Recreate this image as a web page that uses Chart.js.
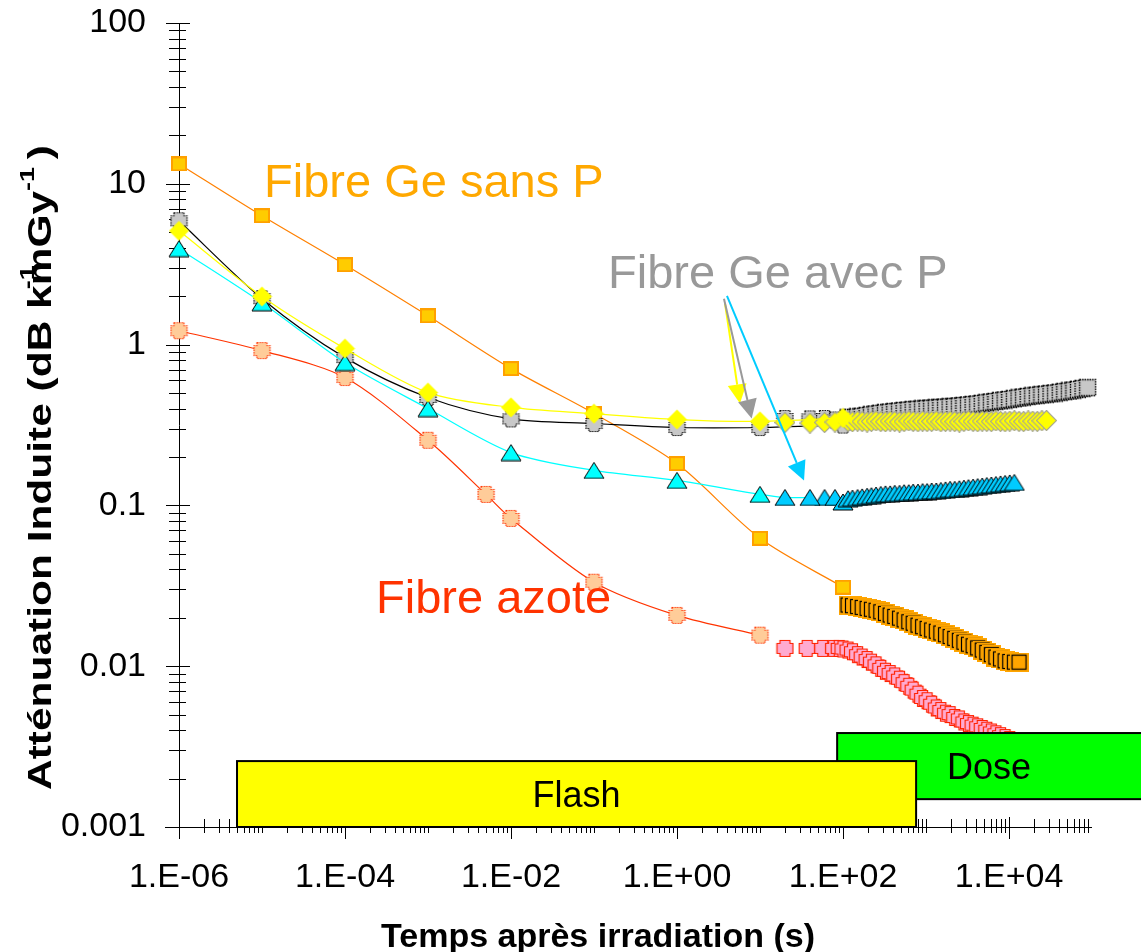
<!DOCTYPE html>
<html>
<head>
<meta charset="utf-8">
<script src="https://cdn.jsdelivr.net/npm/chart.js@4.4.1/dist/chart.umd.min.js"></script>
<style>
  html, body { margin: 0; padding: 0; background: #ffffff; }
  #wrap { width: 1141px; height: 952px; }
</style>
</head>
<body>
<div id="wrap"><canvas id="chart" width="1141" height="952"></canvas></div>
<script>
// ---- Data -------------------------------------------------------------
// Induced attenuation (dB km-1 Gy-1) versus time after irradiation (s)

// Fibre Ge sans P : pulsed measurements
const sansPTimes  = [1e-6, 1e-5, 1e-4, 1e-3, 1e-2, 1e-1, 1, 10, 100];
const sansPValues = [13.3, 6.33, 3.14, 1.51, 0.709, 0.373, 0.182, 0.0624, 0.031];

// Fibre Ge avec P (grey squares)
const avecP1Times  = [1e-6, 1e-5, 1e-4, 1e-3, 1e-2, 1e-1, 1, 10, 100];
const avecP1Values = [5.89, 1.93, 0.83, 0.469, 0.345, 0.323, 0.305, 0.305, 0.316];
const avecP1StartTimes = [20, 40, 60, 80];
const avecP1Start      = [0.347, 0.345, 0.347, 0.340];

// Fibre Ge avec P (yellow diamonds)
const avecP2Times  = [1e-6, 1e-5, 1e-4, 1e-3, 1e-2, 1e-1, 1, 10, 100];
const avecP2Values = [5.1, 1.99, 0.944, 0.503, 0.407, 0.372, 0.342, 0.333, 0.35];
const avecP2StartTimes = [20, 40, 60, 80];
const avecP2Start      = [0.328, 0.325, 0.328, 0.330];

// Fibre Ge avec P (cyan triangles)
const avecP3Times  = [1e-6, 1e-5, 1e-4, 1e-3, 1e-2, 1e-1, 1, 10, 20, 40];
const avecP3Values = [3.95, 1.82, 0.773, 0.40, 0.213, 0.165, 0.143, 0.117, 0.112, 0.112];
const avecP3StartTimes = [60, 80, 100];
const avecP3Start      = [0.112, 0.112, 0.105];

// Fibre azote
const azoteTimes  = [1e-6, 1e-5, 1e-4, 1e-3, 5e-3, 1e-2, 1e-1, 1, 10];
const azoteValues = [1.22, 0.918, 0.624, 0.254, 0.117, 0.083, 0.0333, 0.0207, 0.0156];
const azoteStartTimes = [20, 37, 57, 77, 90, 100];
const azoteStart      = [0.0129, 0.0129, 0.0129, 0.0129, 0.0129, 0.0128];

// Acquisition times during the continuous dose (s)
const doseTimes = [115, 130, 150, 170, 195, 220, 250, 285, 325, 370,
  420, 480, 545, 620, 700, 800, 910, 1030, 1170, 1330,
  1510, 1720, 1950, 2220, 2520, 2860, 3250, 3690, 4190, 4760,
  5400, 6130, 6960, 7900, 8970, 10200, 11600, 13200, 15000, 17000,
  19300, 21900, 24900, 28300, 32100, 36400, 41400, 47000, 53300, 60500,
  68700, 78000, 88600];

const sansPDose = [0.0240, 0.0238, 0.0235, 0.0232, 0.0229, 0.0226, 0.0223, 0.0218, 0.0213, 0.0208,
  0.0204, 0.0199, 0.0194, 0.0189, 0.0185, 0.0180, 0.0176, 0.0172, 0.0168, 0.0165,
  0.0161, 0.0157, 0.0153, 0.0149, 0.0145, 0.0141, 0.0137, 0.0134, 0.0130, 0.0126,
  0.0122, 0.0118, 0.0114, 0.0111, 0.0108, 0.0107, 0.0106, 0.0106];

const avecP1Dose = [0.350, 0.352, 0.355, 0.358, 0.362, 0.366, 0.370, 0.374, 0.377, 0.380,
  0.383, 0.386, 0.389, 0.391, 0.394, 0.396, 0.398, 0.400, 0.402, 0.404,
  0.406, 0.408, 0.410, 0.412, 0.415, 0.418, 0.421, 0.424, 0.427, 0.431,
  0.435, 0.439, 0.443, 0.448, 0.452, 0.456, 0.461, 0.466, 0.471, 0.476,
  0.480, 0.484, 0.488, 0.492, 0.496, 0.500, 0.505, 0.510, 0.515, 0.521,
  0.527, 0.533, 0.540];

const avecP2Dose = [0.333, 0.331, 0.334, 0.332, 0.330, 0.333, 0.335, 0.332, 0.331, 0.334,
  0.333, 0.330, 0.332, 0.335, 0.333, 0.331, 0.334, 0.332, 0.333, 0.335,
  0.331, 0.333, 0.334, 0.332, 0.330, 0.333, 0.335, 0.333, 0.331, 0.334,
  0.333, 0.332, 0.335, 0.333, 0.331, 0.334, 0.336, 0.333, 0.332, 0.335,
  0.334, 0.333, 0.336, 0.337];

const avecP3Dose = [0.110, 0.111, 0.112, 0.113, 0.114, 0.115, 0.116, 0.117, 0.118, 0.118,
  0.119, 0.119, 0.120, 0.120, 0.121, 0.121, 0.122, 0.122, 0.123, 0.123,
  0.124, 0.125, 0.126, 0.126, 0.127, 0.128, 0.129, 0.130, 0.131, 0.132,
  0.133, 0.134, 0.135, 0.136, 0.137, 0.138, 0.139];

const azoteDose = [0.0126, 0.0123, 0.0118, 0.0114, 0.0110, 0.0106, 0.0102, 0.0097, 0.0093, 0.0090,
  0.0087, 0.0083, 0.0079, 0.0075, 0.0071, 0.0067, 0.0063, 0.0061, 0.0058, 0.0055,
  0.0053, 0.0051, 0.0050, 0.0048, 0.0047, 0.0045, 0.0044, 0.0043, 0.0042, 0.0041,
  0.0040, 0.0039, 0.0038, 0.0037, 0.0036, 0.0035, 0.0034, 0.0033];

// Axis ticks
const xTickValues = [1e-6, 1e-4, 1e-2, 1, 1e2, 1e4];
const xTickLabels = ['1.E-06', '1.E-04', '1.E-02', '1.E+00', '1.E+02', '1.E+04'];
const yTickValues = [0.001, 0.01, 0.1, 1, 10, 100];
const yTickLabels = ['0.001', '0.01', '0.1', '1', '10', '100'];

// Irradiation periods and pointers (data units)
const periods = [
  { label: 'Dose',  xFrom: 85,   xTo: 1e7, yFrom: 0.00149, yTo: 0.00384, fill: '#00FF00' },
  { label: 'Flash', xFrom: 5e-6, xTo: 760, yFrom: 0.001,   yTo: 0.00257, fill: '#FFFF00' }
];
const pointers = [
  { from: [3.79, 1.80], to: [5.74, 0.431], color: '#FFFF00' },
  { from: [3.68, 1.93], to: [7.94, 0.347], color: '#999999' },
  { from: [4.0, 2.01],  to: [33.9, 0.143], color: '#00CCFF' }
];

// ---- Styling helpers ---------------------------------------------------
const FONT = '"Liberation Sans", Arial, Helvetica, sans-serif';

function pts(times, values) {
  return values.map((v, i) => ({ x: times[i], y: v }));
}

function marker(w, h, paint) {
  const c = document.createElement('canvas');
  c.width = w; c.height = h;
  paint(c.getContext('2d'), w, h);
  return c;
}

function notchedPath(ctx, o, s, n) {
  ctx.beginPath();
  ctx.moveTo(o + n, o);
  ctx.lineTo(o + s - n, o); ctx.lineTo(o + s - n, o + n); ctx.lineTo(o + s, o + n);
  ctx.lineTo(o + s, o + s - n); ctx.lineTo(o + s - n, o + s - n); ctx.lineTo(o + s - n, o + s);
  ctx.lineTo(o + n, o + s); ctx.lineTo(o + n, o + s - n); ctx.lineTo(o, o + s - n);
  ctx.lineTo(o, o + n); ctx.lineTo(o + n, o + n);
  ctx.closePath();
}

const mkNotched = (fill, stroke, dashed) => marker(19, 19, (ctx) => {
  notchedPath(ctx, 1.5, 16, 3);
  ctx.fillStyle = fill; ctx.fill();
  ctx.strokeStyle = stroke; ctx.lineWidth = 1.2;
  if (dashed) ctx.setLineDash([1.5, 1]);
  ctx.stroke();
});

const greyMark  = mkNotched('#C8C8C8', '#000000', true);
const peachMark = mkNotched('#FFCC99', '#FF3300', true);
const pinkMark  = mkNotched('#FFAAD0', '#FF2200', false);

const greyDoseMark = marker(19, 19, (ctx, w, h) => {
  ctx.fillStyle = '#C8C8C8'; ctx.fillRect(1.5, 1.5, w - 3, h - 3);
  ctx.strokeStyle = '#000000'; ctx.lineWidth = 1.4; ctx.setLineDash([1.5, 1]);
  ctx.strokeRect(1.5, 1.5, w - 3, h - 3);
});

const orangeMark = marker(16, 15, (ctx, w, h) => {
  ctx.fillStyle = '#FFCC00'; ctx.fillRect(1, 1, w - 2, h - 2);
  ctx.strokeStyle = '#FFA000'; ctx.lineWidth = 2; ctx.strokeRect(1, 1, w - 2, h - 2);
});
const orangeDoseMark = marker(19, 19, (ctx, w, h) => {
  ctx.fillStyle = '#FFA500'; ctx.fillRect(0, 0, w, h);
  ctx.strokeStyle = '#000000'; ctx.lineWidth = 1.2; ctx.strokeRect(2.5, 2.5, w - 5, h - 5);
});

const mkDiamond = (edge) => marker(21, 21, (ctx, w, h) => {
  ctx.beginPath();
  ctx.moveTo(w / 2, 0.5); ctx.lineTo(w - 0.5, h / 2); ctx.lineTo(w / 2, h - 0.5); ctx.lineTo(0.5, h / 2);
  ctx.closePath();
  ctx.fillStyle = '#FFFF00'; ctx.fill();
  if (edge) { ctx.strokeStyle = edge; ctx.lineWidth = 1.2; ctx.stroke(); }
});
const diamondMark = mkDiamond(null);
const diamondDoseMark = mkDiamond('#A8A890');

const mkTriangle = (fill) => marker(22, 18, (ctx, w, h) => {
  ctx.beginPath();
  ctx.moveTo(w / 2, 1); ctx.lineTo(w - 1, h - 1); ctx.lineTo(1, h - 1);
  ctx.closePath();
  ctx.fillStyle = fill; ctx.fill();
  ctx.strokeStyle = '#000000'; ctx.lineWidth = 1; ctx.stroke();
});
const triMark = mkTriangle('#00FFFF');
const triDoseMark = mkTriangle('#00CCFF');

function lineSet(label, data, color, style) {
  return {
    label, data, borderColor: color, borderWidth: 1.2, backgroundColor: color,
    pointStyle: style, pointRadius: 9, tension: 0.3, clip: false, showLine: true
  };
}
function dotSet(label, data, style) {
  return {
    label, data, showLine: false, pointStyle: style, pointRadius: 9, clip: false,
    borderColor: 'transparent', backgroundColor: 'transparent'
  };
}

// ---- Plugins -----------------------------------------------------------
const axesPlugin = {
  id: 'axesLines',
  beforeDatasetsDraw(chart) {
    const { ctx, chartArea: a, scales: { x, y } } = chart;
    ctx.save();
    ctx.strokeStyle = '#000000';
    ctx.lineWidth = 1;
    ctx.beginPath();
    ctx.moveTo(a.left + 0.5, a.top); ctx.lineTo(a.left + 0.5, a.bottom + 1);
    ctx.moveTo(165, a.bottom + 0.5); ctx.lineTo(a.right, a.bottom + 0.5);
    // x ticks
    for (let e = -6; e <= 4; e++) {
      for (let m = 1; m <= 9; m++) {
        const px = Math.round(x.getPixelForValue(m * Math.pow(10, e))) + 0.5;
        if (m === 1 && e % 2 === 0) { ctx.moveTo(px, a.bottom - 10); ctx.lineTo(px, a.bottom + 12); }
        else { ctx.moveTo(px, a.bottom - 8); ctx.lineTo(px, a.bottom + 6); }
      }
    }
    // y ticks
    for (let e = -3; e <= 2; e++) {
      const last = e === 2 ? 1 : 9;
      for (let m = 1; m <= last; m++) {
        const py = Math.round(y.getPixelForValue(m * Math.pow(10, e))) + 0.5;
        if (m === 1) { ctx.moveTo(a.left - 13, py); ctx.lineTo(a.left + 11, py); }
        else { ctx.moveTo(a.left - 10, py); ctx.lineTo(a.left + 7, py); }
      }
    }
    ctx.stroke();
    ctx.restore();
  }
};

function drawArrow(ctx, x1, y1, x2, y2, color) {
  const ang = Math.atan2(y2 - y1, x2 - x1);
  const len = 19, half = 9.5;
  const bx = x2 - len * Math.cos(ang), by = y2 - len * Math.sin(ang);
  ctx.strokeStyle = color; ctx.fillStyle = color; ctx.lineWidth = 2;
  ctx.beginPath(); ctx.moveTo(x1, y1); ctx.lineTo(bx, by); ctx.stroke();
  ctx.beginPath();
  ctx.moveTo(x2, y2);
  ctx.lineTo(bx + half * Math.sin(ang), by - half * Math.cos(ang));
  ctx.lineTo(bx - half * Math.sin(ang), by + half * Math.cos(ang));
  ctx.closePath(); ctx.fill();
}

const overlayPlugin = {
  id: 'overlay',
  afterDatasetsDraw(chart) {
    const { ctx, scales: { x, y } } = chart;
    ctx.save();
    // irradiation periods
    periods.forEach(p => {
      const x1 = x.getPixelForValue(p.xFrom), x2 = x.getPixelForValue(p.xTo);
      const y1 = y.getPixelForValue(p.yTo), y2 = y.getPixelForValue(p.yFrom);
      ctx.fillStyle = p.fill;
      ctx.fillRect(x1, y1, x2 - x1, y2 - y1);
      ctx.strokeStyle = '#000000'; ctx.lineWidth = 2;
      ctx.strokeRect(x1, y1, x2 - x1, y2 - y1);
      const visRight = Math.min(x2, chart.width);
      ctx.fillStyle = '#000000';
      ctx.font = '36px ' + FONT;
      ctx.textAlign = 'center'; ctx.textBaseline = 'alphabetic';
      ctx.fillText(p.label, (x1 + visRight) / 2, (y1 + y2) / 2 + 13);
    });
    // pointers
    pointers.forEach(p => {
      drawArrow(ctx, x.getPixelForValue(p.from[0]), y.getPixelForValue(p.from[1]),
                x.getPixelForValue(p.to[0]), y.getPixelForValue(p.to[1]), p.color);
    });
    // fibre names
    ctx.textAlign = 'left'; ctx.textBaseline = 'alphabetic';
    ctx.font = '47px ' + FONT;
    ctx.fillStyle = '#FFA800'; ctx.fillText('Fibre Ge sans P', 264, 197);
    ctx.fillStyle = '#999999'; ctx.fillText('Fibre Ge avec P', 608, 288);
    ctx.fillStyle = '#FF3300'; ctx.fillText('Fibre azote', 376, 613);

    // axis titles
    ctx.fillStyle = '#000000';
    ctx.font = 'bold 34px ' + FONT;
    ctx.textAlign = 'center';
    ctx.fillText('Temps après irradiation (s)', 598, 947);

    ctx.save();
    const big = 'bold 33px ' + FONT, sup = 'bold 21px ' + FONT;
    ctx.font = big;
    const head = 'Atténuation Induite (dB k';
    const wHead = ctx.measureText(head).width;
    const wMid = ctx.measureText('mGy').width;
    const wClose = ctx.measureText(')').width;
    ctx.font = sup;
    const wSup = ctx.measureText('-1').width;
    const total = wHead + wMid + wSup + 6 + wClose;
    ctx.translate(51, 790);
    ctx.rotate(-Math.PI / 2);
    ctx.scale(645 / total, 1);
    ctx.textAlign = 'left';
    let cx = 0;
    ctx.font = big; ctx.fillText(head, cx, 0);
    cx += wHead;
    ctx.font = sup; ctx.fillText('-1', cx - 3, -17);
    ctx.font = big; ctx.fillText('mGy', cx, 0);
    cx += wMid;
    ctx.font = sup; ctx.fillText('-1', cx, -17);
    cx += wSup + 6;
    ctx.font = big; ctx.fillText(')', cx, 0);
    ctx.restore();

    ctx.restore();
  }
};

// ---- Chart -------------------------------------------------------------
const datasets = [
  lineSet('Fibre Ge avec P (2)', pts(avecP2Times, avecP2Values), '#FFFF00', diamondMark),
  dotSet('Fibre Ge avec P (2) dose',
    pts(avecP2StartTimes, avecP2Start).concat(pts(doseTimes, avecP2Dose)), diamondDoseMark),
  Object.assign(lineSet('Fibre Ge avec P (3)', pts(avecP3Times, avecP3Values), '#00FFFF', triMark),
    { pointStyle: (c) => (c.dataIndex < 8 ? triMark : triDoseMark) }),
  dotSet('Fibre Ge avec P (3) dose',
    pts(avecP3StartTimes, avecP3Start).concat(pts(doseTimes, avecP3Dose)), triDoseMark),
  lineSet('Fibre Ge avec P (1)', pts(avecP1Times, avecP1Values), '#000000', greyMark),
  Object.assign(dotSet('Fibre Ge avec P (1) dose',
    pts(avecP1StartTimes, avecP1Start).concat(pts(doseTimes, avecP1Dose)), greyMark),
    { pointStyle: (c) => (c.dataIndex < avecP1StartTimes.length ? greyMark : greyDoseMark) }),
  lineSet('Fibre Ge sans P', pts(sansPTimes, sansPValues), '#FF8000', orangeMark),
  dotSet('Fibre Ge sans P dose', pts(doseTimes, sansPDose), orangeDoseMark),
  lineSet('Fibre azote', pts(azoteTimes, azoteValues), '#FF3300', peachMark),
  dotSet('Fibre azote dose',
    pts(azoteStartTimes, azoteStart).concat(pts(doseTimes, azoteDose)), pinkMark)
];

new Chart(document.getElementById('chart'), {
  type: 'line',
  data: { datasets },
  plugins: [axesPlugin, overlayPlugin],
  options: {
    responsive: false,
    devicePixelRatio: 1,
    animation: false,
    events: [],
    layout: { padding: { top: 23, right: 49, bottom: 0, left: 0 } },
    plugins: { legend: { display: false }, tooltip: { enabled: false } },
    scales: {
      x: {
        type: 'logarithmic', min: 1e-6, max: 1e5, position: 'bottom',
        grid: { display: false, drawTicks: false },
        border: { display: false },
        ticks: {
          autoSkip: false, maxRotation: 0, padding: 30, color: '#000000',
          font: { family: FONT, size: 34 },
          callback: (v, i) => xTickLabels[i]
        },
        afterBuildTicks: (s) => { s.ticks = xTickValues.map(v => ({ value: v })); },
        afterFit: (s) => { s.height = 125; s.paddingLeft = 0; s.paddingRight = 0; }
      },
      y: {
        type: 'logarithmic', min: 0.001, max: 100, position: 'left',
        grid: { display: false, drawTicks: false },
        border: { display: false },
        ticks: {
          autoSkip: false, padding: 33, color: '#000000',
          font: { family: FONT, size: 34 },
          callback: (v, i) => yTickLabels[i]
        },
        afterBuildTicks: (s) => { s.ticks = yTickValues.map(v => ({ value: v })); },
        afterFit: (s) => { s.width = 179; s.paddingTop = 0; s.paddingBottom = 0; }
      }
    }
  }
});
</script>
</body>
</html>
